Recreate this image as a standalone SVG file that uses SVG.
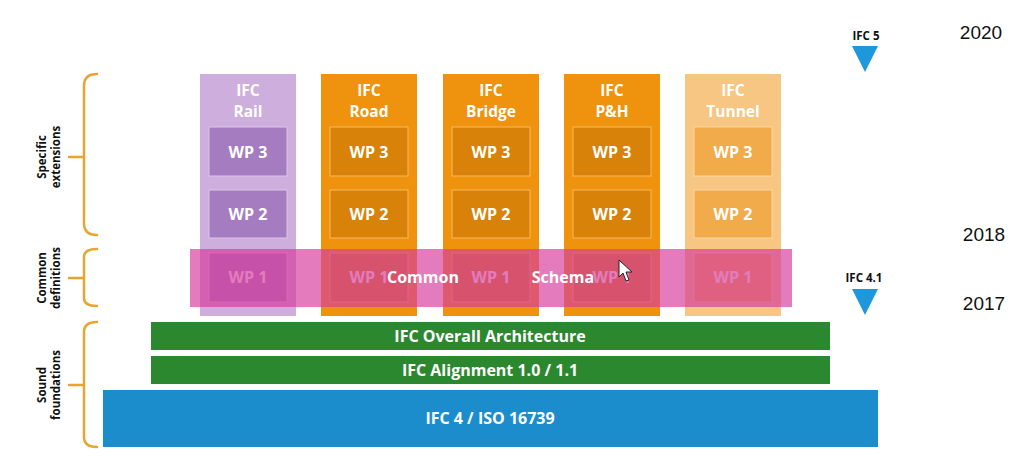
<svg xmlns="http://www.w3.org/2000/svg" width="1024" height="472" viewBox="0 0 1024 472">
<defs>
<style>
.t{font-family:"Open Sans","Noto Sans","Liberation Sans",sans-serif;font-weight:700;fill:#fff;text-anchor:middle}
.h{font-size:15.5px}
.w{font-size:16px}
.lbl{font-family:"Open Sans","Noto Sans","Liberation Sans",sans-serif;font-weight:700;font-size:11.5px;fill:#111;text-anchor:middle}
.yr{font-family:"Liberation Sans",Arial,sans-serif;font-size:19px;fill:#111;text-anchor:middle}
.brace{fill:none;stroke:#e8a530;stroke-width:2.5;stroke-linecap:round}
.tri{fill:#1f97dc}
.colO{fill:#ef920d}
.wpO{fill:#d8820a;stroke:#f6bb5e;stroke-width:1}
.colP{fill:#cdaedc}
.wpP{fill:#a67cc1;stroke:#dcc3e8;stroke-width:1}
.colT{fill:#f6c682}
.wpT{fill:#f2ab4a;stroke:#f9d7a3;stroke-width:1}
.green{fill:#2c882e}
</style>
</defs>
<rect width="1024" height="472" fill="#fff"/>

<g id="braces">
<path class="brace" d="M97,74 Q84,74 84,86 L84,223 Q84,235 97,235 M84,157 L69,157"/>
<path class="brace" d="M97,249 Q84,249 84,257 L84,298 Q84,306 97,306 M84,278 L69,278"/>
<path class="brace" d="M97,322 Q84,322 84,332 L84,437 Q84,447 97,447 M84,385 L69,385"/>
<text class="lbl" transform="translate(46,157) rotate(-90)">Specific</text>
<text class="lbl" transform="translate(60,157) rotate(-90)">extensions</text>
<text class="lbl" transform="translate(46,278) rotate(-90)">Common</text>
<text class="lbl" transform="translate(60,278) rotate(-90)">definitions</text>
<text class="lbl" transform="translate(46,385) rotate(-90)">Sound</text>
<text class="lbl" transform="translate(60,385) rotate(-90)">foundations</text>
</g>

<g id="rail">
<rect class="colP" x="200" y="74" width="96" height="242"/>
<text class="t h" x="248" y="96">IFC</text>
<text class="t h" x="248" y="117">Rail</text>
<rect class="wpP" x="209" y="127" width="78" height="49"/>
<text class="t w" x="248" y="158">WP 3</text>
<rect class="wpP" x="209" y="190" width="78" height="48"/>
<text class="t w" x="248" y="220">WP 2</text>
<rect class="wpP" x="209" y="253" width="78" height="49"/>
<text class="t w" x="248" y="283">WP 1</text>
</g>

<g id="road">
<rect class="colO" x="321" y="74" width="96" height="242"/>
<text class="t h" x="369" y="96">IFC</text>
<text class="t h" x="369" y="117">Road</text>
<rect class="wpO" x="330" y="127" width="78" height="49"/>
<text class="t w" x="369" y="158">WP 3</text>
<rect class="wpO" x="330" y="190" width="78" height="48"/>
<text class="t w" x="369" y="220">WP 2</text>
<rect class="wpO" x="330" y="253" width="78" height="49"/>
<text class="t w" x="369" y="283">WP 1</text>
</g>

<g id="bridge">
<rect class="colO" x="443" y="74" width="96" height="242"/>
<text class="t h" x="491" y="96">IFC</text>
<text class="t h" x="491" y="117">Bridge</text>
<rect class="wpO" x="452" y="127" width="78" height="49"/>
<text class="t w" x="491" y="158">WP 3</text>
<rect class="wpO" x="452" y="190" width="78" height="48"/>
<text class="t w" x="491" y="220">WP 2</text>
<rect class="wpO" x="452" y="253" width="78" height="49"/>
<text class="t w" x="491" y="283">WP 1</text>
</g>

<g id="ph">
<rect class="colO" x="564" y="74" width="96" height="242"/>
<text class="t h" x="612" y="96">IFC</text>
<text class="t h" x="612" y="117">P&amp;H</text>
<rect class="wpO" x="573" y="127" width="78" height="49"/>
<text class="t w" x="612" y="158">WP 3</text>
<rect class="wpO" x="573" y="190" width="78" height="48"/>
<text class="t w" x="612" y="220">WP 2</text>
<rect class="wpO" x="573" y="253" width="78" height="49"/>
<text class="t w" x="612" y="283">WP 1</text>
</g>

<g id="tunnel">
<rect class="colT" x="685" y="74" width="96" height="242"/>
<text class="t h" x="733" y="96">IFC</text>
<text class="t h" x="733" y="117">Tunnel</text>
<rect class="wpT" x="694" y="127" width="78" height="49"/>
<text class="t w" x="733" y="158">WP 3</text>
<rect class="wpT" x="694" y="190" width="78" height="48"/>
<text class="t w" x="733" y="220">WP 2</text>
<rect class="wpT" x="694" y="253" width="78" height="49"/>
<text class="t w" x="733" y="283">WP 1</text>
</g>

<g id="common-schema">
<rect x="190" y="249" width="602" height="58" fill="#d63c9c" fill-opacity="0.68"/>
<text class="t w" x="423" y="283">Common</text>
<text class="t w" x="563" y="283">Schema</text>
</g>

<g id="overall">
<rect class="green" x="151" y="322" width="679" height="28"/>
<text class="t w" x="490" y="342">IFC Overall Architecture</text>
</g>
<g id="alignment">
<rect class="green" x="151" y="356" width="679" height="28"/>
<text class="t w" x="490" y="376">IFC Alignment 1.0 / 1.1</text>
</g>
<g id="ifc4">
<rect x="103" y="390" width="775" height="57" fill="#1b8dcd"/>
<text class="t w" x="490" y="424">IFC 4 / ISO 16739</text>
</g>

<g id="ifc5">
<text class="lbl" x="866" y="40">IFC 5</text>
<polygon class="tri" points="852,46 878,46 865,72"/>
</g>
<g id="ifc41">
<text class="lbl" x="864" y="282">IFC 4.1</text>
<polygon class="tri" points="852,289 878,289 865,315"/>
</g>

<g id="years">
<text class="yr" x="981" y="39">2020</text>
<text class="yr" x="984" y="241">2018</text>
<text class="yr" x="984" y="310">2017</text>
</g>

<g id="cursor">
<polygon points="619,260 619,277 623,273 626,281 629,280 626,272 632,272" fill="#fff" stroke="#222" stroke-width="1"/>
</g>
</svg>
